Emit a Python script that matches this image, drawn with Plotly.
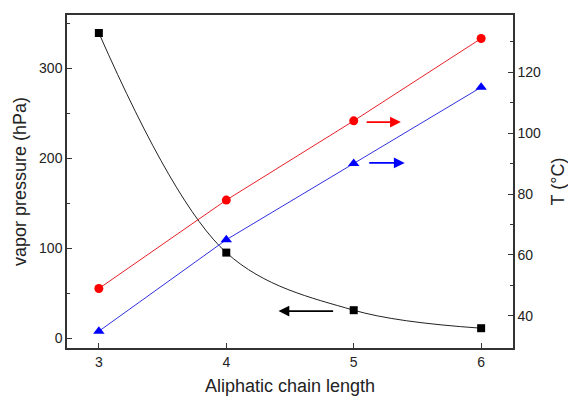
import plotly.graph_objects as go

chain = [3, 4, 5, 6]
vapor = [339, 95, 31, 11]
t_red = [49, 78, 104, 131]
t_blue = [35, 65, 90, 115]

FONT = "Liberation Sans, Arial, sans-serif"

fig = go.Figure()
fig.add_trace(go.Scatter(x=chain, y=vapor, mode="lines+markers",
                         line=dict(color="#222222", width=1, shape="spline", smoothing=1.0),
                         marker=dict(symbol="square", size=8, color="black"), yaxis="y"))
fig.add_trace(go.Scatter(x=chain, y=t_red, mode="lines+markers",
                         line=dict(color="#e8202a", width=1),
                         marker=dict(symbol="circle", size=9, color="#ff0000"), yaxis="y2"))
fig.add_trace(go.Scatter(x=chain, y=t_blue, mode="lines+markers",
                         line=dict(color="#3030e0", width=1),
                         marker=dict(symbol="triangle-up", size=10, color="#0000ff"), yaxis="y2"))

anns = [
    dict(x=5.37, y=103.6, ax=5.09, ay=103.6, xref="x", yref="y2", axref="x", ayref="y2", color="#ff0000"),
    dict(x=5.40, y=90.2, ax=5.11, ay=90.2, xref="x", yref="y2", axref="x", ayref="y2", color="#0000ff"),
    dict(x=4.41, y=30, ax=4.85, ay=30, xref="x", yref="y", axref="x", ayref="y", color="#000000"),
]
for a in anns:
    c = a.pop("color")
    fig.add_annotation(**a, text="", showarrow=True, arrowhead=2, arrowsize=1.2,
                       arrowwidth=1.8, arrowcolor=c)

axis_common = dict(showline=True, linecolor="#333333", linewidth=1.5, ticks="inside",
                   tickcolor="#333333", ticklen=5, tickwidth=1.2, showgrid=False, zeroline=False,
                   automargin=False,
                   tickfont=dict(family=FONT, size=14, color="#222222"))
TFONT = dict(family=FONT, size=18, color="#222222")

fig.update_layout(
    width=568, height=396, margin=dict(l=67, r=55, t=15, b=48),
    plot_bgcolor="white", paper_bgcolor="white", showlegend=False,
    xaxis=dict(range=[2.75, 6.25], tickvals=chain, mirror=True,
               title=dict(text="Aliphatic chain length", font=TFONT, standoff=14),
               **axis_common),
    yaxis=dict(range=[-11, 359], tickvals=[0, 100, 200, 300],
               minor=dict(ticks="inside", ticklen=3, tickvals=[50, 150, 250, 350], tickcolor="#333333"),
               title=dict(text="vapor pressure (hPa)", font=TFONT, standoff=8),
               **axis_common),
    yaxis2=dict(range=[29.5, 138.7], overlaying="y", side="right",
                tickvals=[40, 60, 80, 100, 120],
                minor=dict(ticks="inside", ticklen=3, tickvals=[50, 70, 90, 110, 130], tickcolor="#333333"),
                title=dict(text="T (°C)", font=TFONT, standoff=15),
                **axis_common),
)

fig.write_html("out.html")
